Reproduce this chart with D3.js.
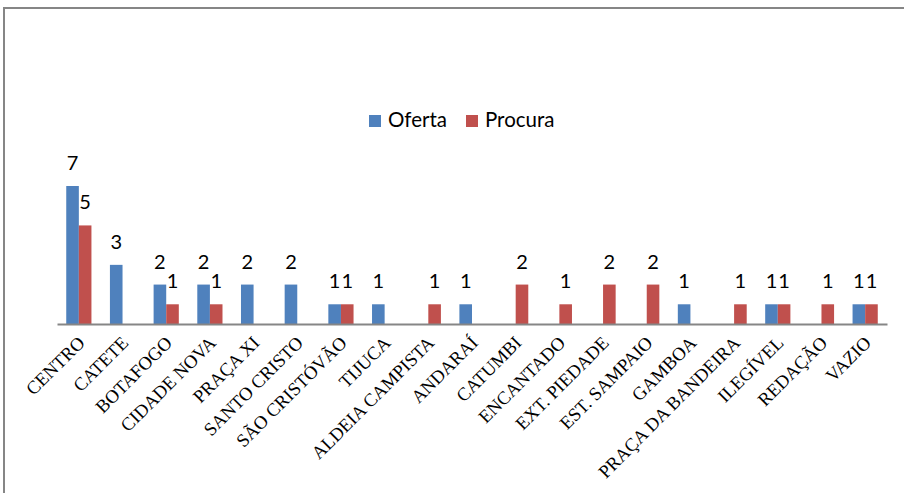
<!DOCTYPE html>
<html>
<head>
<meta charset="utf-8">
<script src="https://cdn.jsdelivr.net/npm/d3@7"></script>
<style>
  html, body { margin: 0; padding: 0; background: #fff; }
  svg { display: block; }
</style>
</head>
<body>
<svg id="chart" width="904" height="493"></svg>
<script>
const categories = ["CENTRO", "CATETE", "BOTAFOGO", "CIDADE NOVA", "PRAÇA XI", "SANTO CRISTO",
  "SÃO CRISTÓVÃO", "TIJUCA", "ALDEIA CAMPISTA", "ANDARAÍ", "CATUMBI", "ENCANTADO",
  "EXT. PIEDADE", "EST. SAMPAIO", "GAMBOA", "PRAÇA DA BANDEIRA", "ILEGÍVEL", "REDAÇÃO", "VAZIO"];
const oferta  = [7, 3, 2, 2, 2, 2, 1, 1, null, 1, null, null, null, null, 1, null, 1, null, 1];
const procura = [5, null, 1, 1, null, null, 1, null, 1, null, 2, 1, 2, 2, null, 1, 1, 1, 1];
const seriesNames = ["Oferta", "Procura"];
const seriesColors = ["#4F81BD", "#C0504D"];

const svg = d3.select("#chart");

// outer frame
svg.append("rect")
  .attr("x", 4).attr("y", 8).attr("width", 920).attr("height", 500)
  .attr("fill", "none").attr("stroke", "#868686").attr("stroke-width", 2);

const x0 = d3.scaleBand().domain(categories).range([57, 887]).paddingInner(0).paddingOuter(0);
const bw = 12.6;
const x1 = d3.scaleBand().domain(seriesNames).range([-bw, bw]);
const y = d3.scaleLinear().domain([0, 7]).range([324, 186]);

const data = categories.map((c, i) => ({ cat: c, vals: [oferta[i], procura[i]] }));

const groups = svg.append("g").selectAll("g").data(data).join("g")
  .attr("transform", d => `translate(${x0(d.cat) + x0.bandwidth() / 2},0)`);

groups.selectAll("rect")
  .data(d => d.vals.map((v, k) => ({ v, k })).filter(e => e.v))
  .join("rect")
  .attr("x", e => x1(seriesNames[e.k]))
  .attr("width", x1.bandwidth())
  .attr("y", e => y(e.v))
  .attr("height", e => y(0) - y(e.v))
  .attr("fill", e => seriesColors[e.k]);

groups.selectAll("text.val")
  .data(d => d.vals.map((v, k) => ({ v, k })).filter(e => e.v))
  .join("text")
  .attr("class", "val")
  .attr("x", e => x1(seriesNames[e.k]) + x1.bandwidth() / 2)
  .attr("y", e => y(e.v) - 16)
  .attr("text-anchor", "middle")
  .attr("font-family", "Lato, 'Open Sans', sans-serif")
  .attr("font-size", 20)
  .attr("fill", "#000")
  .text(e => e.v);

// axis
const axis = d3.axisBottom(x0).tickSize(0).tickPadding(0);
const ax = svg.append("g").attr("transform", "translate(0,324)").call(axis);
ax.select(".domain").attr("stroke", "#868686").attr("stroke-width", 2);
ax.selectAll(".tick text")
  .attr("font-family", "'Liberation Serif', 'Times New Roman', serif")
  .attr("font-size", 18.5)
  .attr("fill", "#000")
  .attr("text-anchor", "end")
  .attr("dy", 0)
  .attr("transform", "translate(7,20) rotate(-45)");

// legend
const legend = svg.append("g");
const legendX = [369, 466];
seriesNames.forEach((s, i) => {
  legend.append("rect").attr("x", legendX[i]).attr("y", 115).attr("width", 12).attr("height", 12)
    .attr("fill", seriesColors[i]);
  legend.append("text").attr("x", legendX[i] + 19).attr("y", 127)
    .attr("font-family", "Lato, 'Open Sans', sans-serif").attr("font-size", 20.5)
    .attr("fill", "#000").text(s);
});
</script>
</body>
</html>
